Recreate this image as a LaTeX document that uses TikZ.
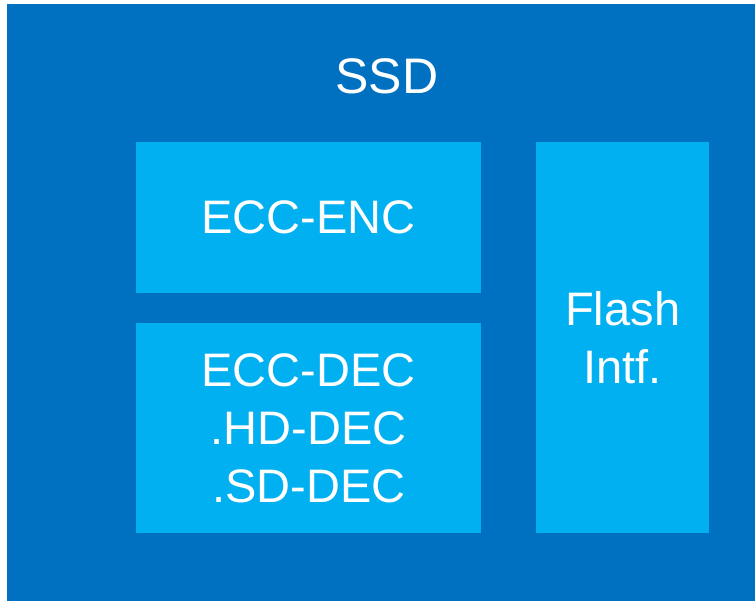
\documentclass[tikz,border=0pt]{standalone}
\usepackage{fontspec}
\setmainfont{Liberation Sans}
\usetikzlibrary{positioning}

\definecolor{ssdblue}{RGB}{0,112,192}
\definecolor{blockblue}{RGB}{0,176,240}

\tikzset{
    block/.style={
        fill=blockblue, draw=none, text=white, align=center,
        anchor=north west, inner sep=0pt,
        font=\fontsize{47}{58}\selectfont
    }
}

\begin{document}
\begin{tikzpicture}[x=1pt, y=-1pt]
    % Fixing the page size to the reference
    \useasboundingbox (0,0) rectangle (755,601);

    % Outer SSD frame
    \node[fill=ssdblue, draw=none, anchor=north west, inner sep=0pt,
        minimum width=748pt, minimum height=597pt] (ssd) at (7,4) {};
    \node[text=white, anchor=base, font=\fontsize{50}{60}\selectfont] (title) at (387,94) {SSD};

    % Inner blocks
    \node[block, minimum width=345pt, minimum height=151pt] (enc) at (136,142) {ECC-ENC};
    \node[block, minimum width=345pt, minimum height=210pt] (dec) at (136,323) {
        ECC-DEC\\
        .HD-DEC\\
        .SD-DEC
    };
    \node[block, minimum width=173pt, minimum height=391pt] (flash) at (536,142) {Flash\\Intf.};
\end{tikzpicture}
\end{document}
